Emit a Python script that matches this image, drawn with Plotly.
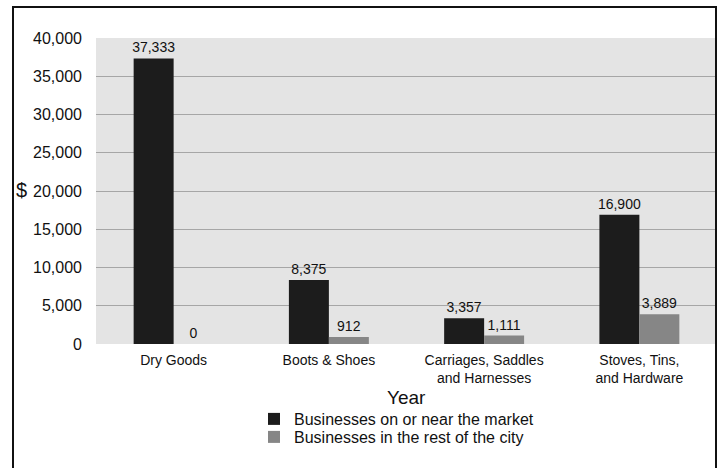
import plotly.graph_objects as go

categories = ["Dry Goods", "Boots & Shoes", "Carriages, Saddles<br>and Harnesses", "Stoves, Tins,<br>and Hardware"]
market_values = [37333, 8375, 3357, 16900]
city_values = [0, 912, 1111, 3889]
series_names = ["Businesses on or near the market", "Businesses in the rest of the city"]
y_ticks = [0, 5000, 10000, 15000, 20000, 25000, 30000, 35000, 40000]

W, H = 727, 468
L, R, T, B = 96, 10, 38, 124
pw, ph = W - L - R, H - T - B

def px_x(p):
    return (p - L) / pw

def px_y(p):
    return (H - B - p) / ph

font_family = "Liberation Sans, Arial, sans-serif"

fig = go.Figure()
fig.add_trace(go.Bar(
    x=categories, y=market_values, name=series_names[0],
    marker=dict(color="#1c1c1c", line=dict(width=0)),
    text=[f"{v:,}" for v in market_values], textposition="outside",
    textfont=dict(size=14, color="#111111", family=font_family),
    constraintext="none",
    cliponaxis=False, legend="legend",
))
fig.add_trace(go.Bar(
    x=categories, y=city_values, name=series_names[1],
    marker=dict(color="#868686", line=dict(width=0)),
    text=[f"{v:,}" for v in city_values], textposition="outside",
    textfont=dict(size=14, color="#111111", family=font_family),
    constraintext="none",
    cliponaxis=False, legend="legend2",
))

leg_common = dict(xanchor="left", yanchor="middle", orientation="v",
                  font=dict(size=16, color="#111111"),
                  bgcolor="rgba(0,0,0,0)", borderwidth=0)

fig.update_layout(
    width=W, height=H,
    margin=dict(l=L, r=R, t=T, b=B, pad=0),
    paper_bgcolor="white",
    plot_bgcolor="#e4e4e4",
    barmode="group", bargap=0.485, bargroupgap=0,
    font=dict(family=font_family, color="#111111"),
    showlegend=True,
    legend=dict(x=px_x(254), y=px_y(419), **leg_common),
    legend2=dict(x=px_x(254), y=px_y(437), **leg_common),
    xaxis=dict(
        showgrid=False, showline=False, zeroline=False,
        tickfont=dict(size=14, color="#111111"),
        ticks="", ticklabelstandoff=6,
    ),
    yaxis=dict(
        range=[0, 40000], tickvals=y_ticks,
        ticktext=[f"{v:,}" for v in y_ticks],
        showgrid=True, gridcolor="#a6a6a6", gridwidth=1,
        zeroline=False, showline=False,
        tickfont=dict(size=16, color="#111111"),
        ticks="", ticklabelstandoff=13,
    ),
    annotations=[
        dict(text="$", x=px_x(21), y=px_y(190), xref="paper", yref="paper",
             showarrow=False, font=dict(size=20, color="#111111"),
             xanchor="center", yanchor="middle"),
        dict(text="Year", x=0.5, y=px_y(397), xref="paper", yref="paper",
             showarrow=False, font=dict(size=19, color="#111111"),
             xanchor="center", yanchor="middle"),
    ],
    shapes=[
        dict(type="rect", xref="paper", yref="paper",
             x0=px_x(13), x1=px_x(716), y0=px_y(490), y1=px_y(7),
             line=dict(color="#111111", width=2), fillcolor="rgba(0,0,0,0)",
             layer="above"),
    ],
)

fig.write_html(
    "out.html",
    config={"displayModeBar": False},
    post_script="document.body.style.margin='0';document.body.style.overflow='hidden';",
)
